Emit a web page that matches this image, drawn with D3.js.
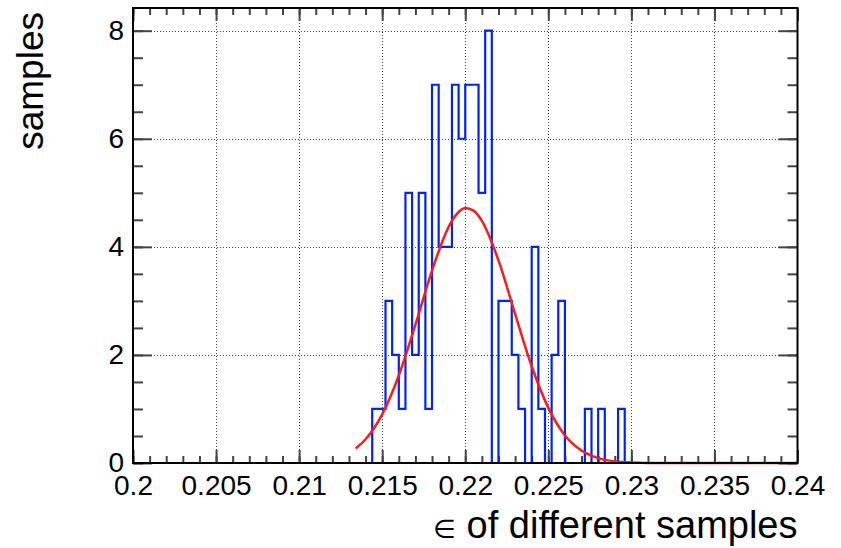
<!DOCTYPE html>
<html>
<head>
<meta charset="utf-8">
<script src="https://cdn.jsdelivr.net/npm/d3@7"></script>
<style>
  body { margin: 0; background: #fff; }
  svg { display: block; font-family: "Liberation Sans", Arial, sans-serif; }
</style>
</head>
<body>
<div id="chart"></div>
<script>
// histogram: 100 bins over [0.2, 0.24]
const xRange = [0.2, 0.24];
const binCounts = [
    0, 0, 0, 0, 0, 0, 0, 0, 0, 0, 0, 0, 0, 0, 0, 0, 0, 0, 0, 0,
    0, 0, 0, 0, 0, 0, 0, 0, 0, 0, 0, 0, 0, 0, 0, 0, 1, 1, 3, 2,
    1, 5, 2, 5, 1, 7, 4, 4, 7, 6, 7, 7, 5, 8, 0, 3, 3, 2, 1, 0,
    4, 1, 0, 2, 3, 0, 0, 0, 1, 0, 1, 0, 0, 1, 0, 0, 0, 0, 0, 0,
    0, 0, 0, 0, 0, 0, 0, 0, 0, 0, 0, 0, 0, 0, 0, 0, 0, 0, 0, 0
];

// gaussian fit curve
const fitX = [0.2134, 0.214, 0.215, 0.216, 0.217, 0.218, 0.219, 0.2195, 0.220, 0.2205,
              0.221, 0.222, 0.223, 0.224, 0.225, 0.226, 0.227, 0.228, 0.229, 0.230, 0.232, 0.24];
const fitY = [0.27, 0.44, 0.90, 1.62, 2.56, 3.56, 4.37, 4.61, 4.72, 4.67,
              4.48, 3.75, 2.76, 1.79, 1.02, 0.51, 0.23, 0.09, 0.03, 0.01, 0, 0];

const xMajor = [0.2, 0.205, 0.21, 0.215, 0.22, 0.225, 0.23, 0.235, 0.24];
const xTickLabels = ["0.2", "0.205", "0.21", "0.215", "0.22", "0.225", "0.23", "0.235", "0.24"];
const yMajor = [0, 2, 4, 6, 8];
const yTickLabels = ["0", "2", "4", "6", "8"];

const W = 841, H = 548;
const frame = { left: 133, right: 797.5, top: 8, bottom: 463 };

const svg = d3.select("#chart").append("svg")
    .attr("width", W)
    .attr("height", H);

const x = d3.scaleLinear().domain(xRange).range([frame.left, frame.right]);
const y = d3.scaleLinear().domain([0, 8.42]).range([frame.bottom, frame.top]);

const xMinor = d3.range(0, 41).map(i => 0.2 + i * 0.001);
const yMinor = d3.range(0, 17).map(i => i * 0.5);

// grid
const grid = svg.append("g").attr("class", "grid")
    .attr("stroke", "#444")
    .attr("stroke-width", 1)
    .attr("stroke-dasharray", "1,2");
grid.selectAll(".gx").data(xMajor.slice(1, -1)).enter().append("line")
    .attr("x1", d => Math.round(x(d)) + 0.5).attr("x2", d => Math.round(x(d)) + 0.5)
    .attr("y1", frame.top).attr("y2", frame.bottom);
grid.selectAll(".gy").data(yMajor.slice(1)).enter().append("line")
    .attr("x1", frame.left).attr("x2", frame.right)
    .attr("y1", d => Math.round(y(d)) + 0.5).attr("y2", d => Math.round(y(d)) + 0.5);

function styleAxis(g) {
    g.select(".domain").remove();
    g.selectAll("line").attr("stroke", "#444").attr("stroke-width", 2);
    g.selectAll("text").attr("fill", "#000").style("font-size", "28px");
}

// bottom axis
svg.append("g").attr("transform", `translate(0,${frame.bottom})`)
    .call(d3.axisBottom(x).tickValues(xMinor).tickSize(-7).tickSizeOuter(0).tickFormat(""))
    .call(styleAxis);
svg.append("g").attr("transform", `translate(0,${frame.bottom})`)
    .call(d3.axisBottom(x).tickValues(xMajor).tickSize(-13).tickSizeOuter(0).tickPadding(12)
        .tickFormat((d, i) => xTickLabels[i]))
    .call(styleAxis);

// top axis
svg.append("g").attr("transform", `translate(0,${frame.top})`)
    .call(d3.axisTop(x).tickValues(xMinor).tickSize(-7).tickSizeOuter(0).tickFormat(""))
    .call(styleAxis);
svg.append("g").attr("transform", `translate(0,${frame.top})`)
    .call(d3.axisTop(x).tickValues(xMajor).tickSize(-13).tickSizeOuter(0).tickFormat(""))
    .call(styleAxis);

// left axis
svg.append("g").attr("transform", `translate(${frame.left},0)`)
    .call(d3.axisLeft(y).tickValues(yMinor).tickSize(-10).tickSizeOuter(0).tickFormat(""))
    .call(styleAxis);
svg.append("g").attr("transform", `translate(${frame.left},0)`)
    .call(d3.axisLeft(y).tickValues(yMajor).tickSize(-19).tickSizeOuter(0).tickPadding(9)
        .tickFormat((d, i) => yTickLabels[i]))
    .call(styleAxis);

// right axis
svg.append("g").attr("transform", `translate(${frame.right},0)`)
    .call(d3.axisRight(y).tickValues(yMinor).tickSize(-10).tickSizeOuter(0).tickFormat(""))
    .call(styleAxis);
svg.append("g").attr("transform", `translate(${frame.right},0)`)
    .call(d3.axisRight(y).tickValues(yMajor).tickSize(-19).tickSizeOuter(0).tickFormat(""))
    .call(styleAxis);

// histogram outline
const nBins = binCounts.length;
const binW = (xRange[1] - xRange[0]) / nBins;
const histPts = [[xRange[0], 0]];
binCounts.forEach((c, i) => {
    histPts.push([xRange[0] + i * binW, c]);
    histPts.push([xRange[0] + (i + 1) * binW, c]);
});
histPts.push([xRange[1], 0]);

svg.append("path")
    .datum(histPts)
    .attr("fill", "none")
    .attr("stroke", "#0022ff")
    .attr("stroke-width", 2.2)
    .attr("d", d3.line().x(d => x(d[0])).y(d => y(d[1])));

// fit
svg.append("path")
    .datum(fitX.map((v, i) => [v, fitY[i]]))
    .attr("fill", "none")
    .attr("stroke", "#ff1a1a")
    .attr("stroke-width", 2.5)
    .attr("d", d3.line().curve(d3.curveMonotoneX).x(d => x(d[0])).y(d => y(d[1])));

// frame
svg.append("rect")
    .attr("x", frame.left).attr("y", frame.top)
    .attr("width", frame.right - frame.left).attr("height", frame.bottom - frame.top)
    .attr("fill", "none").attr("stroke", "#000").attr("stroke-width", 2);

// titles
svg.append("text")
    .attr("x", frame.right)
    .attr("y", 538)
    .attr("text-anchor", "end")
    .style("font-size", "38px")
    .html('<tspan font-family="DejaVu Sans" font-size="26px">∈</tspan> of different samples');

svg.append("text")
    .attr("transform", "rotate(-90)")
    .attr("x", -12)
    .attr("y", 43)
    .attr("text-anchor", "end")
    .style("font-size", "37px")
    .text("samples");
</script>
</body>
</html>
